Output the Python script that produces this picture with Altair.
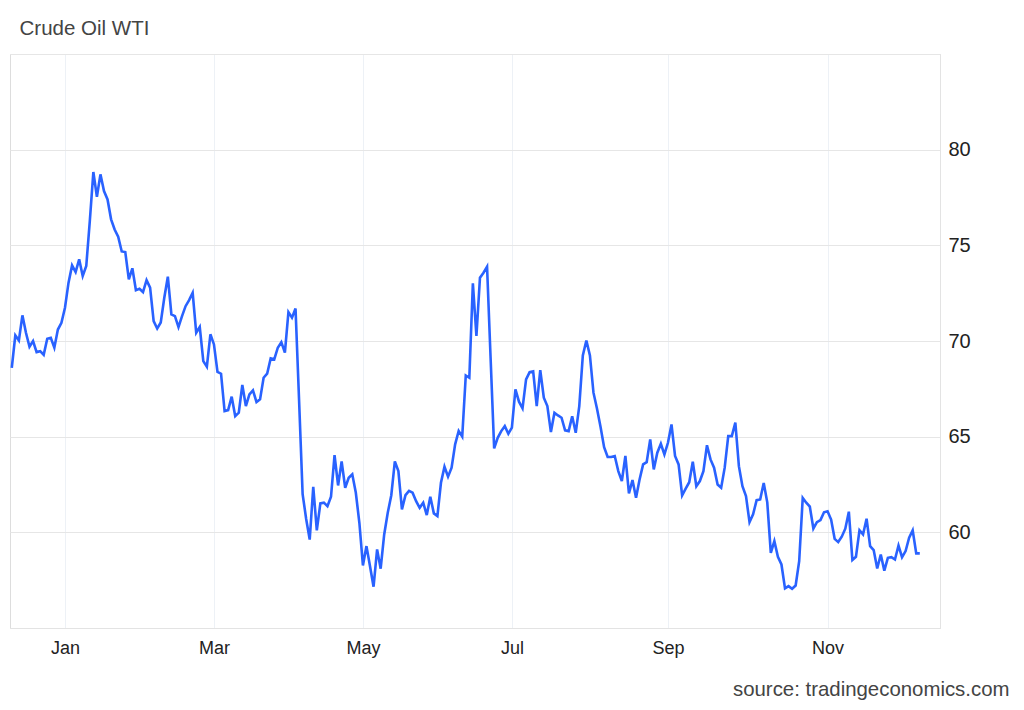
import altair as alt
import pandas as pd

# ---------------- data ----------------
title_text = "Crude Oil WTI"
source_text = "source: tradingeconomics.com"

start_date = "2024-12-10"
end_date = "2025-12-10"
market_holidays = ["2024-12-25", "2025-01-01", "2025-04-18", "2025-06-19", "2025-11-27"]

prices = [
    68.6, 70.3, 70.03, 71.34, 70.43, 69.7, 70.0, 69.42, 69.47, 69.28, 70.12, 70.17, 69.65, 70.6, 70.95, 71.74,
    73.05, 73.95, 73.6, 74.27, 73.4, 73.92, 76.27, 78.83, 77.54, 78.71, 77.84, 77.4, 76.36, 75.83, 75.45, 74.68,
    74.65, 73.22, 73.8, 72.66, 72.73, 72.56, 73.18, 72.79,
    71.04, 70.65, 70.97, 72.26, 73.36, 71.39, 71.30, 70.73, 71.30, 71.82, 72.14, 72.52, 70.43, 70.73, 68.95, 68.66,
    70.35, 69.82, 68.39, 68.29,
    66.34, 66.39, 67.09, 66.07, 66.25, 67.7, 66.6, 67.21, 67.42, 66.81, 66.95, 68.08, 68.29, 69.09, 69.04, 69.65,
    69.94, 69.39, 71.51, 71.22,
    71.7, 66.9, 62.0, 60.7, 59.62, 62.38, 60.1, 61.51, 61.55, 61.37, 61.86, 64.03, 62.45, 63.71, 62.33, 62.85,
    63.03, 62.07, 60.5, 58.27,
    59.28, 58.23, 57.16, 59.11, 58.1, 59.89, 61.02, 61.94, 63.71, 63.2, 61.2, 61.94, 62.17, 62.07, 61.63, 61.28,
    61.55, 60.9, 61.86, 60.99,
    60.85, 62.59, 63.43, 62.91, 63.38, 64.6, 65.3, 65.0, 68.2, 68.08, 73.01, 70.26, 73.31, 73.57, 73.88, 69.1,
    64.39, 64.94, 65.29, 65.55,
    65.15, 65.47, 67.47, 66.83, 66.48, 67.99, 68.37, 68.41, 66.6, 68.48, 67.04, 66.6, 65.24, 66.25, 66.11, 65.99,
    65.33, 65.29, 66.07, 65.2,
    66.6, 69.25, 70.03, 69.25, 67.3, 66.46, 65.5, 64.45, 63.94, 63.94, 63.99, 63.2, 62.68, 63.99, 62.03, 62.73,
    61.81, 62.76, 63.55, 63.67,
    64.86, 63.29, 64.16, 64.63, 64.07, 64.68, 65.64, 63.99, 63.55, 61.93, 62.28, 62.62, 63.69, 62.41, 62.68, 63.2,
    64.55, 63.81, 63.38, 62.5,
    62.33, 63.38, 65.03, 65.03, 65.73, 63.46, 62.41, 61.89, 60.53, 60.94, 61.68, 61.72, 62.58, 61.57, 58.93, 59.54,
    58.72, 58.32, 57.07, 57.19,
    57.05, 57.22, 58.49, 61.8, 61.55, 61.34, 60.2, 60.53, 60.64, 61.05, 61.1, 60.67, 59.66, 59.49, 59.77, 60.19,
    61.08, 58.55, 58.72, 60.11,
    59.89, 60.71, 59.28, 59.07, 58.11, 58.84, 58.0, 58.67, 58.7, 58.58, 59.31, 58.7, 59.02, 59.72, 60.1, 58.9, 58.9,
]

tick_months = [1, 3, 5, 7, 9, 11]
tick_labels = ["Jan", "Mar", "May", "Jul", "Sep", "Nov"]
y_ticks = [55, 60, 65, 70, 75, 80, 85]

# trading-day calendar (ordinal x axis, like the original)
dates = pd.bdate_range(start_date, end_date, freq="C", holidays=market_holidays)
n = min(len(dates), len(prices))
df = pd.DataFrame({"i": list(range(n)), "date": dates[:n], "price": prices[:n]})

tick_idx = []
for m in tick_months:
    sel = df[(df["date"].dt.year == 2025) & (df["date"].dt.month == m)]
    tick_idx.append(int(sel["i"].iloc[0]))

label_expr = ""
for ti, lab in zip(tick_idx, tick_labels):
    label_expr += f"datum.value == {ti} ? '{lab}' : "
label_expr += "''"

FONT = "Liberation Sans, Arial, Helvetica, sans-serif"
BLUE = "#2962ff"

x_enc = alt.X(
    "i:Q",
    scale=alt.Scale(domain=[-0.5, 261.7], nice=False, zero=False),
    axis=alt.Axis(
        values=tick_idx, labelExpr=label_expr, title=None, grid=True,
        gridColor="#edf1f6", gridWidth=1, ticks=False, domain=True,
        domainColor="#e3e3e3", labelFontSize=18, labelColor="#222",
        labelFont=FONT, labelPadding=11, labelFlush=False,
    ),
)
y_enc = alt.Y(
    "price:Q",
    scale=alt.Scale(domain=[55, 85], nice=False, zero=False),
    axis=alt.Axis(
        orient="right", values=y_ticks,
        labelExpr="datum.value >= 60 && datum.value <= 80 ? datum.value : ''",
        title=None, grid=True, gridColor="#e6e6e6", gridWidth=1, ticks=False,
        domain=True, domainColor="#e3e3e3", labelFontSize=20, labelColor="#222",
        labelFont=FONT, labelPadding=8, labelBaseline="middle",
    ),
)

line = alt.Chart(df).mark_line(color=BLUE, strokeWidth=2.6, interpolate="linear").encode(x=x_enc, y=y_enc)

title_mark = alt.Chart(pd.DataFrame({"t": [title_text]})).mark_text(
    align="left", baseline="alphabetic", fontSize=20.5, font=FONT, color="#444"
).encode(text="t:N", x=alt.value(9.5), y=alt.value(-19.5))

source_mark = alt.Chart(pd.DataFrame({"t": [source_text]})).mark_text(
    align="right", baseline="alphabetic", fontSize=20.4, font=FONT, color="#444"
).encode(text="t:N", x=alt.value(999.5), y=alt.value(642))

chart = (
    alt.layer(line, title_mark, source_mark)
    .properties(
        width=930, height=574,
        autosize=alt.AutoSizeParams(type="none"),
        padding={"left": 2, "top": 46, "right": 74, "bottom": 73},
    )
    .configure_view(stroke=None)
    .configure(background="white")
)

chart.save("out.html", embed_options={"renderer": "svg", "actions": False})
